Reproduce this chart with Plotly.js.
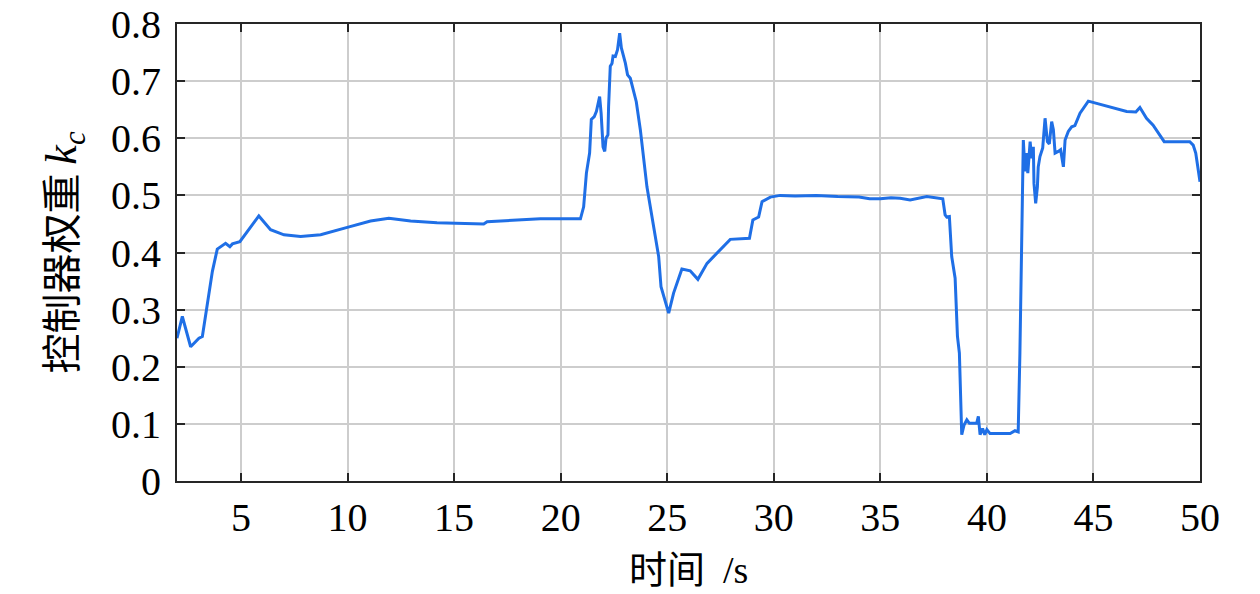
<!DOCTYPE html>
<html>
<head>
<meta charset="utf-8">
<script src="https://cdn.plot.ly/plotly-3.0.1.min.js"></script>
<style>html,body{margin:0;padding:0;background:#fff;}#chart{width:1260px;height:594px;}</style>
</head>
<body>
<div id="chart"></div>
<script>
const timeS = [2.0,2.25,2.64,2.8,3.03,3.19,3.35,3.66,3.89,4.28,4.48,4.6,4.95,5.84,6.39,7.02,7.8,8.74,9.99,11.08,11.94,12.96,14.2,16.39,16.55,17.5,18.5,19.05,20.93,21.08,21.21,21.36,21.44,21.58,21.68,21.83,21.9,21.99,22.07,22.13,22.22,22.25,22.33,22.41,22.46,22.57,22.67,22.77,22.85,23.04,23.14,23.27,23.55,23.74,24.05,24.36,24.6,24.71,25.07,25.3,25.69,26.08,26.44,26.87,27.49,27.96,28.86,29.02,29.29,29.45,29.84,30.3,31.0,32.0,33.0,34.0,34.5,35.0,35.5,35.93,36.4,37.18,37.93,38.04,38.12,38.24,38.35,38.51,38.62,38.71,38.82,38.93,39.06,39.18,39.52,39.6,39.68,39.8,39.9,40.0,40.15,41.09,41.32,41.47,41.55,41.66,41.71,41.79,41.87,41.92,42.03,42.1,42.18,42.21,42.29,42.37,42.41,42.49,42.62,42.73,42.84,42.93,43.04,43.12,43.2,43.35,43.46,43.59,43.67,43.82,43.98,44.13,44.37,44.76,45.62,46.56,46.99,47.18,47.49,47.8,48.32,49.52,49.68,49.8,50.0];
const weightKc = [0.25,0.288,0.235,0.241,0.25,0.253,0.294,0.367,0.406,0.416,0.41,0.415,0.419,0.464,0.44,0.431,0.428,0.431,0.444,0.455,0.46,0.455,0.452,0.45,0.454,0.456,0.458,0.459,0.459,0.48,0.539,0.574,0.633,0.638,0.647,0.673,0.644,0.585,0.577,0.6,0.606,0.655,0.726,0.731,0.744,0.743,0.755,0.784,0.758,0.731,0.711,0.705,0.664,0.615,0.515,0.445,0.393,0.34,0.294,0.329,0.371,0.368,0.353,0.381,0.405,0.423,0.425,0.457,0.462,0.489,0.497,0.5,0.499,0.5,0.498,0.497,0.494,0.494,0.496,0.495,0.492,0.498,0.494,0.466,0.462,0.463,0.393,0.355,0.253,0.224,0.081,0.098,0.107,0.101,0.101,0.113,0.081,0.092,0.081,0.09,0.083,0.083,0.088,0.086,0.224,0.457,0.597,0.542,0.574,0.539,0.594,0.565,0.585,0.521,0.486,0.515,0.55,0.568,0.583,0.635,0.594,0.59,0.629,0.615,0.574,0.577,0.58,0.55,0.597,0.612,0.62,0.622,0.644,0.665,0.657,0.647,0.646,0.654,0.635,0.623,0.594,0.594,0.588,0.574,0.524];
const xTickVals = [5,10,15,20,25,30,35,40,45,50];
const xTickText = ['5','10','15','20','25','30','35','40','45','50'];
const yTickVals = [0,0.1,0.2,0.3,0.4,0.5,0.6,0.7,0.8];
const yTickText = ['0','0.1','0.2','0.3','0.4','0.5','0.6','0.7','0.8'];
const xTitle = '时间 <span style="font-family:Liberation Serif"> /s</span>';
const yTitle = '控制器权重 <span style="font-family:Liberation Serif;font-size:44px"><i>k</i><sub><i>c</i></sub></span>';

const serif = '"Liberation Serif", "DejaVu Serif", serif';
const tickFont = {family:serif, size:40, color:'#000'};
const titleFont = {family:'"Noto Sans CJK SC", "Liberation Serif", serif', size:40, color:'#000'};
const xTitleFont = {family:'"Noto Sans CJK SC", "Liberation Serif", serif', size:38, color:'#000'};

const trace = {
  x: timeS, y: weightKc, type:'scatter', mode:'lines',
  line:{color:'#1f6fe6', width:3}, hoverinfo:'skip', showlegend:false
};

const axisCommon = {
  showline:true, linecolor:'#262626', linewidth:2, mirror:'ticks',
  ticks:'inside', ticklen:8, tickwidth:2, tickcolor:'#262626',
  showgrid:true, gridcolor:'#cdcdcd', gridwidth:2, zeroline:false,
  tickfont:tickFont
};

const layout = {
  width:1260, height:594,
  margin:{l:177, r:60, t:24, b:113},
  paper_bgcolor:'#fff', plot_bgcolor:'#fff',
  xaxis: Object.assign({}, axisCommon, {
    range:[2,50], tickmode:'array', tickvals:xTickVals, ticktext:xTickText,
    ticklabelstandoff:0
  }),
  yaxis: Object.assign({}, axisCommon, {
    range:[0,0.8], tickmode:'array', tickvals:yTickVals, ticktext:yTickText,
    ticklabelstandoff:6,
    title:{text:yTitle, font:titleFont, standoff:22}
  }),
  annotations:[{
    text:xTitle, xref:'paper', yref:'paper', x:0.5, y:0,
    xanchor:'center', yanchor:'middle', yshift:-85, showarrow:false,
    borderpad:0, font:xTitleFont
  }]
};

Plotly.newPlot('chart', [trace], layout, {staticPlot:true, displayModeBar:false});
</script>
</body>
</html>
